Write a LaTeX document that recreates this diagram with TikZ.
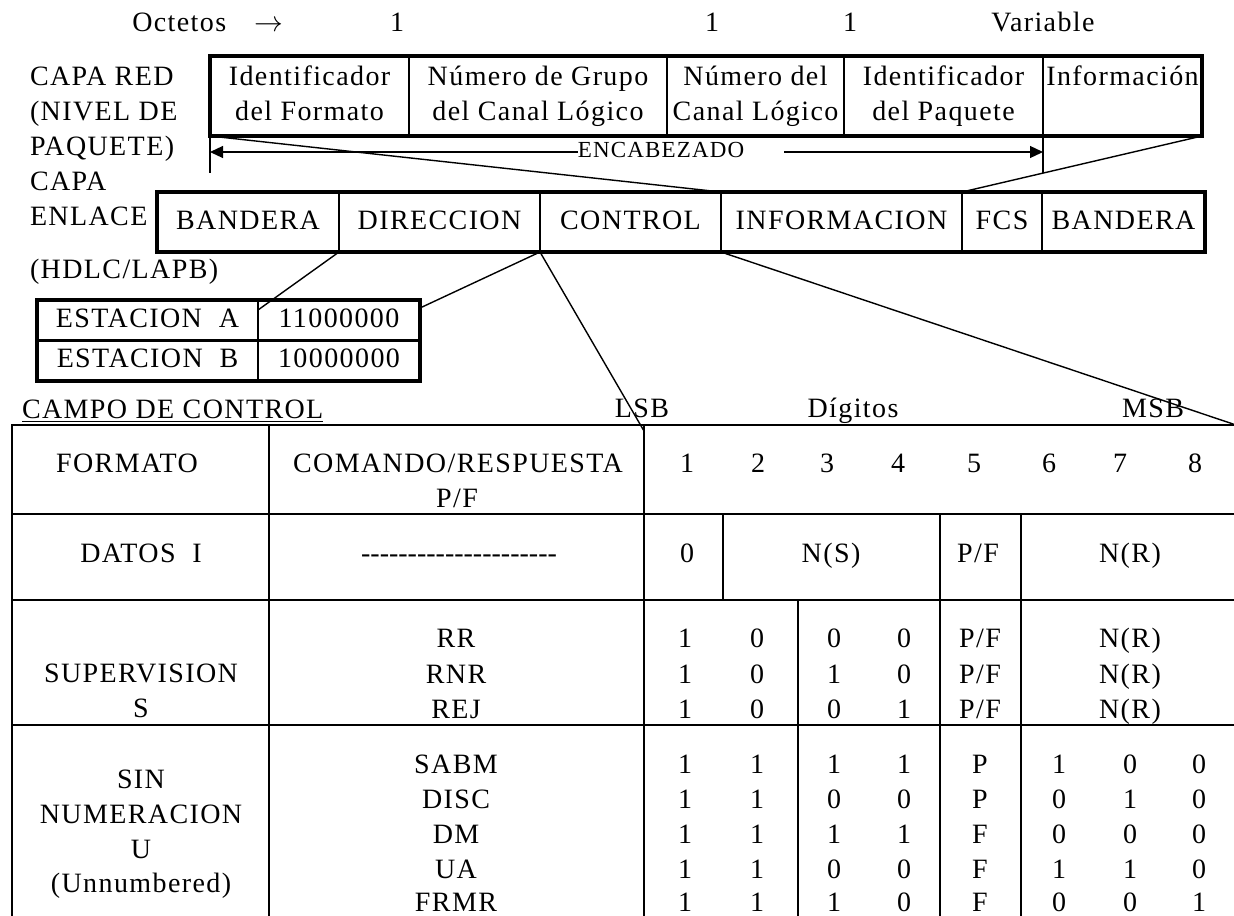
\documentclass[tikz,border=0pt]{standalone}
\usepackage{fontspec}
\setmainfont{Liberation Serif}[LetterSpace=5]
\usepackage{tikz}
\usetikzlibrary{arrows.meta,positioning,calc}

\newcommand{\letra}{\fontsize{14}{17.5}\selectfont}
\newcommand{\letrachica}{\fontsize{11.5}{14}\selectfont}
\newcommand{\guion}{-\kern0pt}

\begin{document}
\begin{tikzpicture}[x=0.5pt,y=-0.5pt,
   every node/.style={font=\letra,inner sep=0pt,outer sep=0pt},
   celda/.style={draw,line width=1.1pt,align=center,minimum height=40pt,anchor=north west},
   celdaenl/.style={draw,line width=1.1pt,minimum height=30pt},
   estacion/.style={draw,line width=1.1pt,minimum height=20.25pt},
   marco/.style={line width=1.6pt},
   enlace/.style={line width=0.7pt},
   rejilla/.style={line width=1.2pt},
   flecha/.style={line width=0.6pt,-{Triangle[length=6.5pt,width=6pt]}}]
   \useasboundingbox (0,0) rectangle (1234,915);
   % octetos
   \node[anchor=base east] (oct) at (283,32) {Octetos\quad$\rightarrow$};
   \node[anchor=base] (o1) at (397,32) {1};
   \node[anchor=base] (o2) at (712,32) {1};
   \node[anchor=base] (o3) at (850,32) {1};
   \node[anchor=base] (ovar) at (1043,32) {Variable};
   % etiquetas de capa
   \node[anchor=base west] (cr1) at (30,85) {CAPA RED};
   \node[anchor=base west] (cr2) at (30,120) {(NIVEL DE};
   \node[anchor=base west] (cr3) at (30,155) {PAQUETE)};
   \node[anchor=base west] (ce1) at (30,190) {CAPA};
   \node[anchor=base west] (ce2) at (30,225) {ENLACE};
   \node[anchor=base west] (ce3) at (30,278) {(HDLC/LAPB)};
   % capa de red
   \node[celda,minimum width=99.5pt] (r1) at (210,56) {\strut Identificador\\\strut del Formato};
   \node[celda,minimum width=129pt,right=0pt of r1] (r2) {\strut Número de Grupo\\\strut del Canal Lógico};
   \node[celda,minimum width=88.5pt,right=0pt of r2] (r3) {\strut Número del\\\strut Canal Lógico};
   \node[celda,minimum width=99.5pt,right=0pt of r3] (r4) {\strut Identificador\\\strut del Paquete};
   \node[celda,minimum width=79.5pt,right=0pt of r4] (r5) {\strut Información\\\strut};
   \draw[marco] (r1.north west) rectangle (r5.south east);
   % encabezado
   \draw[enlace] (r1.south west) -- ++(0,37);
   \draw[enlace] (r5.south west) -- ++(0,37);
   \coordinate (encI) at ($(r1.south west)+(0,16)$);
   \coordinate (encD) at ($(r5.south west)+(0,16)$);
   \node[font=\letrachica,anchor=base] (encab) at (661,157) {ENCABEZADO};
   \draw[flecha] (encab.west |- encI) -- (encI);
   \draw[flecha] ($(encab.east |- encD)+(40,0)$) -- (encD);
   % capa de enlace
   \node[celdaenl,minimum width=91pt,anchor=north west] (e1) at (157,192) {\strut BANDERA};
   \node[celdaenl,minimum width=100.5pt,right=0pt of e1] (e2) {\strut DIRECCION};
   \node[celdaenl,minimum width=90.5pt,right=0pt of e2] (e3) {\strut CONTROL};
   \node[celdaenl,minimum width=120.5pt,right=0pt of e3] (e4) {\strut INFORMACION};
   \node[celdaenl,minimum width=40pt,right=0pt of e4] (e5) {\strut FCS};
   \node[celdaenl,minimum width=81.5pt,right=0pt of e5] (e6) {\strut BANDERA};
   \draw[marco] (e1.north west) rectangle (e6.south east);
   \draw[enlace] (r1.south west) -- (e4.north west);
   \draw[enlace] (r5.south east) -- (e5.north west);
   % estaciones
   \node[estacion,minimum width=110.5pt,anchor=north west] (ea) at (37,300) {\strut ESTACION~~A};
   \node[estacion,minimum width=81pt,right=0pt of ea] (ea2) {\strut 11000000};
   \node[estacion,minimum width=110.5pt,below=0pt of ea] (eb) {\strut ESTACION~~B};
   \node[estacion,minimum width=81pt,right=0pt of eb] (eb2) {\strut 10000000};
   \draw[marco] (ea.north west) rectangle (eb2.south east);
   \draw[enlace] (e2.south west) -- ([yshift=-5pt]ea2.north west);
   \draw[enlace] (e3.south west) -- ([yshift=-4pt]ea2.north east);
   % campo de control
   \node[anchor=base west] (campo) at (22,418) {\underline{CAMPO DE CONTROL}};
   \node[anchor=base] (lsb) at (642,417) {LSB};
   \node[anchor=base] (dig) at (853,417) {Dígitos};
   \node[anchor=base] (msb) at (1153,417) {MSB};
   \draw[rejilla] (12,920) -- (12,425) -- (1236,425);
   \foreach \x in {269,644} \draw[rejilla] (\x,425) -- (\x,920);
   \foreach \y in {514,600,725} \draw[rejilla] (12,\y) -- (1236,\y);
   \draw[rejilla] (723,514) -- (723,600);
   \foreach \x in {940,1021} \draw[rejilla] (\x,514) -- (\x,920);
   \draw[rejilla] (798,600) -- (798,920);
   \coordinate (cdig) at (644,425);
   \coordinate (cfin) at (1236,425);
   \draw[enlace] (e3.south west) -- ([yshift=-3pt]cdig);
   \draw[enlace] (e4.south west) -- (cfin);
   % cabecera
   \node[anchor=base] (hform) at (127,472) {FORMATO};
   \node[anchor=base] (hcom) at (458,472) {COMANDO/RESPUESTA};
   \node[anchor=base] (hpf) at (457,507) {P/F};
   \foreach \x [count=\i] in {687,758,827,898,974,1049,1120,1195}
     \node[anchor=base] (h\i) at (\x,472) {\i};
   % datos I
   \node[anchor=base] (fdat) at (141,562) {DATOS~~I};
   \node[anchor=base] (cdat) at (459,562) {\guion\guion\guion\guion\guion\guion\guion\guion\guion\guion\guion\guion\guion\guion\guion\guion\guion\guion\guion\guion\guion};
   \node[anchor=base] (d0) at (687,562) {0};
   \node[anchor=base] (dns) at (831,562) {N(S)};
   \node[anchor=base] (dpf) at (978,562) {P/F};
   \node[anchor=base] (dnr) at (1130,562) {N(R)};
   % supervision
   \node[anchor=base] (fsup) at (141,682) {SUPERVISION};
   \node[anchor=base] (fsup2) at (141,717) {S};
   \foreach \nom/\y/\a/\b/\c/\d [count=\i] in {RR/647/1/0/0/0, RNR/683/1/0/1/0, REJ/718/1/0/0/1} {
     \node[anchor=base] (s\i) at (456,\y) {\nom};
     \node[anchor=base] (s\i-1) at (685,\y) {\a};
     \node[anchor=base] (s\i-2) at (757,\y) {\b};
     \node[anchor=base] (s\i-3) at (834,\y) {\c};
     \node[anchor=base] (s\i-4) at (904,\y) {\d};
     \node[anchor=base] (s\i-5) at (980,\y) {P/F};
     \node[anchor=base] (s\i-6) at (1130,\y) {N(R)};
   }
   % sin numeracion
   \node[anchor=base] (fsin1) at (141,788) {SIN};
   \node[anchor=base] (fsin2) at (141,823) {NUMERACION};
   \node[anchor=base] (fsin3) at (141,858) {U};
   \node[anchor=base] (fsin4) at (141,892) {(Unnumbered)};
   \foreach \nom/\y/\a/\b/\c/\d/\p/\f/\g/\h [count=\i] in {SABM/773/1/1/1/1/P/1/0/0, DISC/808/1/1/0/0/P/0/1/0, DM/843/1/1/1/1/F/0/0/0, UA/878/1/1/0/0/F/1/1/0, FRMR/911/1/1/1/0/F/0/0/1} {
     \node[anchor=base] (u\i) at (456,\y) {\nom};
     \node[anchor=base] (u\i-1) at (685,\y) {\a};
     \node[anchor=base] (u\i-2) at (757,\y) {\b};
     \node[anchor=base] (u\i-3) at (834,\y) {\c};
     \node[anchor=base] (u\i-4) at (904,\y) {\d};
     \node[anchor=base] (u\i-5) at (980,\y) {\p};
     \node[anchor=base] (u\i-6) at (1059,\y) {\f};
     \node[anchor=base] (u\i-7) at (1130,\y) {\g};
     \node[anchor=base] (u\i-8) at (1199,\y) {\h};
   }
\end{tikzpicture}
\end{document}
